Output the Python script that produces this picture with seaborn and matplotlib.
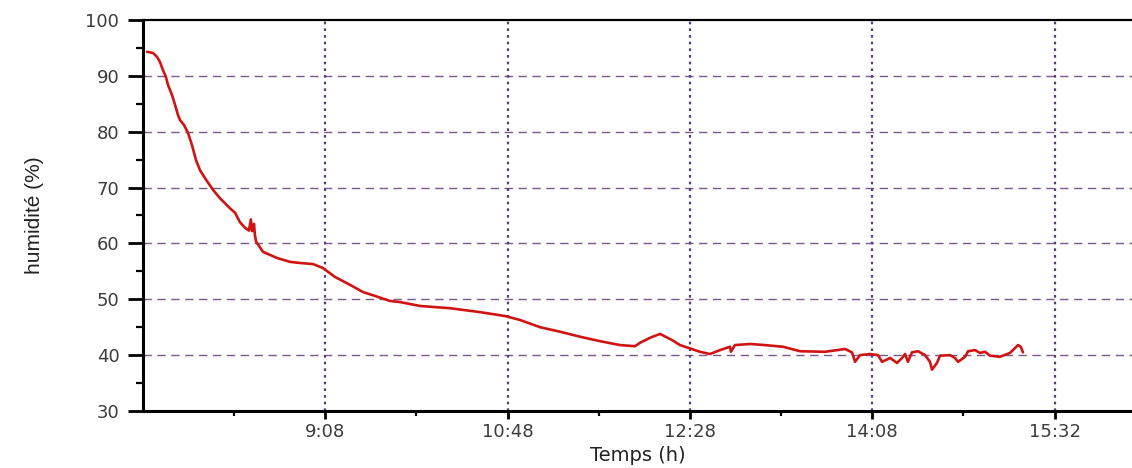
import pandas as pd
import seaborn as sns
import matplotlib.pyplot as plt
from matplotlib.ticker import MultipleLocator, FixedLocator

# time in minutes since midnight, humidity in %
minutes = [450.2, 453.5, 455.7, 457.3, 459.0, 460.6, 461.7, 463.9, 465.6, 467.2,
           468.3, 470.5, 472.7, 474.9, 477.1, 479.3, 482.6, 486.4, 490.2, 495.7,
           498.5, 501.2, 504.0, 506.1, 507.2, 507.8, 508.9, 509.4, 510.0, 510.5,
           513.8, 521.5, 528.6, 534.1, 541.3, 546.7, 553.3, 561.5, 568.7, 575.3,
           583.5, 589.0, 600.0, 616.4, 632.9, 646.6, 654.8, 665.8, 676.7,
           687.7, 698.7, 709.7, 717.9, 720.6, 726.1, 731.6, 738.2, 742.6, 748.1,
           753.5, 759.0, 764.5, 770.0, 770.5, 772.7, 781.0, 789.2, 799.1, 808.4,
           822.1, 833.1, 836.9, 838.6, 841.3, 846.8, 851.2, 853.4, 857.8, 861.6,
           864.4, 866.0, 867.6, 869.8, 873.1, 877.0, 879.7, 880.8, 883.5, 885.2,
           890.7, 893.4, 895.1, 898.9, 900.6, 904.4, 907.1, 909.9, 912.6, 918.1,
           923.6, 928.0, 929.5, 930.7]
humidity = [94.3, 94.1, 93.4, 92.5, 91.0, 89.8, 88.4, 86.6, 84.8, 83.0,
            82.1, 81.2, 79.8, 77.6, 74.9, 73.1, 71.4, 69.6, 68.1, 66.3,
            65.5, 63.8, 62.8, 62.3, 64.3, 62.2, 63.5, 61.5, 60.4, 60.1,
            58.5, 57.4, 56.7, 56.5, 56.3, 55.6, 54.0, 52.6, 51.3, 50.6,
            49.7, 49.5, 48.8, 48.4, 47.7, 47.0, 46.3, 45.0, 44.2,
            43.3, 42.5, 41.8, 41.6, 42.2, 43.1, 43.8, 42.7, 41.8, 41.2,
            40.6, 40.2, 40.9, 41.5, 40.6, 41.8, 42.0, 41.8, 41.5, 40.7,
            40.6, 41.1, 40.5, 38.8, 40.0, 40.2, 40.0, 38.8, 39.5, 38.6,
            39.5, 40.2, 38.8, 40.5, 40.7, 40.0, 38.8, 37.4, 38.6, 39.9,
            40.0, 39.5, 38.8, 39.7, 40.7, 40.9, 40.4, 40.6, 39.9, 39.7,
            40.4, 41.8, 41.5, 40.5]

tick_pos = [548, 648, 748, 848, 948]
tick_labels = ['9:08', '10:48', '12:28', '14:08', '15:32']
minor_pos = [498, 598, 698, 798, 898]

df = pd.DataFrame({'t': minutes, 'h': humidity})

sns.set_style('white')
plt.rcParams['font.family'] = ['DejaVu Sans']

fig = plt.figure(figsize=(11.32, 4.68), dpi=100)
ax = fig.add_axes([0.1263, 0.1218, 0.8737, 0.8355])

sns.lineplot(data=df, x='t', y='h', ax=ax, color='#d01414', linewidth=1.9, zorder=3)

ax.set_xlim(448, 990.5)
ax.set_ylim(30, 100)

ax.xaxis.set_major_locator(FixedLocator(tick_pos))
ax.set_xticklabels(tick_labels)
ax.xaxis.set_minor_locator(FixedLocator(minor_pos))
ax.yaxis.set_major_locator(MultipleLocator(10))
ax.yaxis.set_minor_locator(MultipleLocator(5))

ax.tick_params(axis='both', which='major', direction='out', width=2,
               labelsize=13, labelcolor='#3c3c3c', color='black')
ax.tick_params(axis='both', which='minor', direction='out', width=1.6, color='black')
ax.tick_params(axis='x', which='major', length=6, pad=3)
ax.tick_params(axis='x', which='minor', length=3.5)
ax.tick_params(axis='y', which='major', length=11, pad=6)
ax.tick_params(axis='y', which='minor', length=5)
ax.tick_params(axis='y', which='both', left=True)
ax.tick_params(axis='x', which='both', bottom=True)

for y in range(40, 100, 10):
    ax.axhline(y, color='#7a5a8c', linestyle=(0, (6, 4)), linewidth=1.0, zorder=1)
for x in tick_pos:
    ax.axvline(x, color='#5a3c78', linestyle=(0, (1.2, 1.8)), linewidth=1.6, zorder=1)

for side in ['left', 'bottom']:
    ax.spines[side].set_linewidth(2.2)
    ax.spines[side].set_color('black')
ax.spines['top'].set_linewidth(1.6)
ax.spines['top'].set_color('black')
ax.spines['right'].set_visible(False)

ax.set_xlabel('Temps (h)', fontsize=14, color='#222222', labelpad=3)
ax.set_ylabel('humidité (%)', fontsize=15, color='#222222', labelpad=30,
              family=['Liberation Sans Narrow', 'Liberation Sans', 'DejaVu Sans'])

fig.savefig('out.png', dpi=100)
